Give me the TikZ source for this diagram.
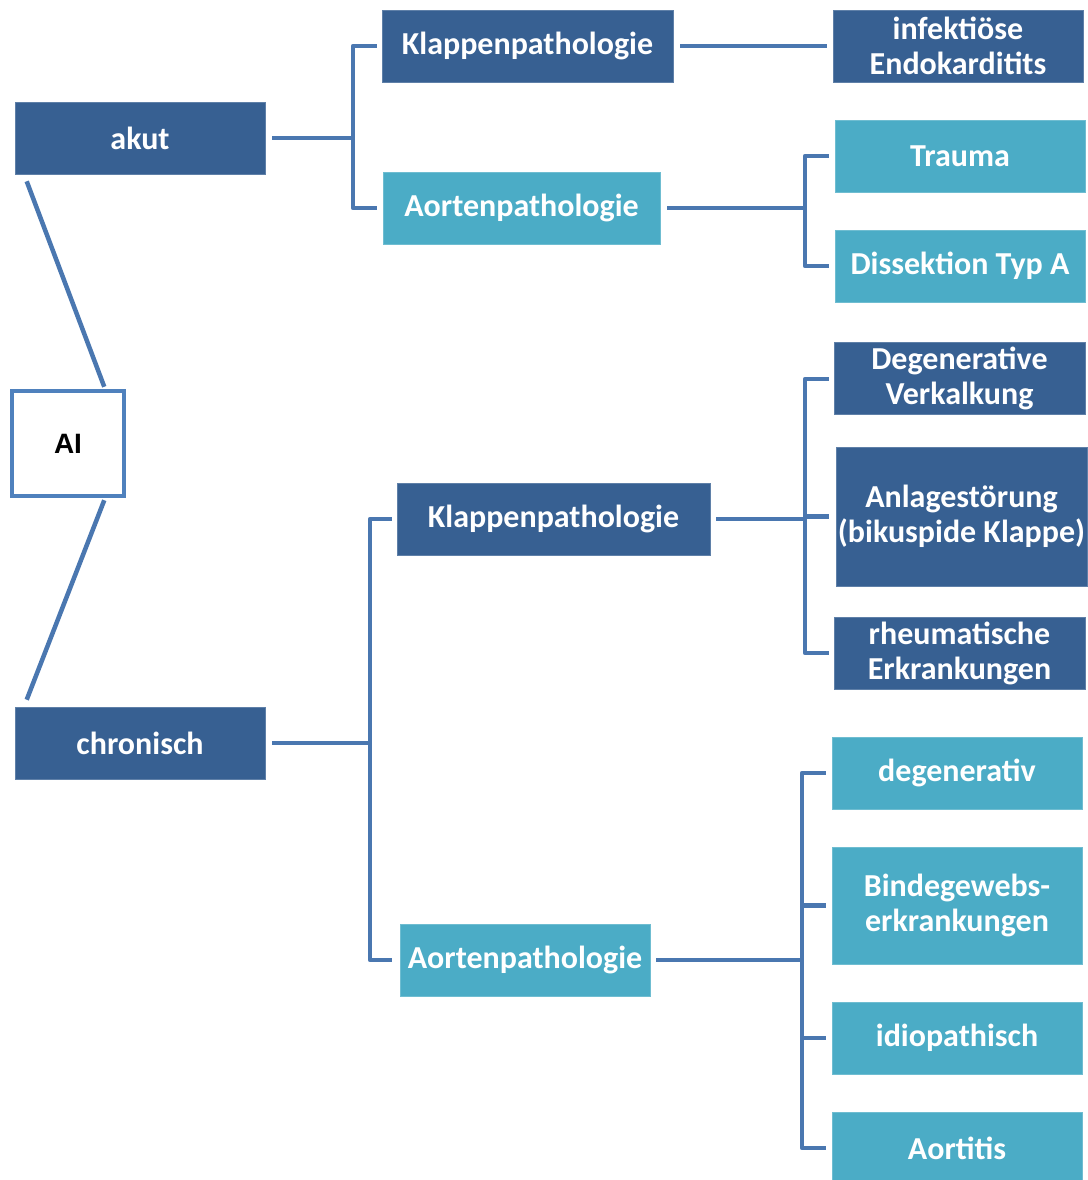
\documentclass[tikz,border=0pt]{standalone}
\usepackage{fontspec}
\setmainfont{Carlito}
\newfontfamily\arialfont{Liberation Sans}
\definecolor{darkbox}{HTML}{376092}
\definecolor{tealbox}{HTML}{4BACC6}
\definecolor{linecol}{HTML}{4A77B0}
\definecolor{aiborder}{HTML}{4F81BD}
\tikzset{
  base/.style={rectangle, inner sep=0pt, text=white, align=center,
    font=\fontsize{32}{35}\selectfont\bfseries},
  dbox/.style={base, fill=darkbox, draw=darkbox!80!white, line width=0.6pt},
  tbox/.style={base, fill=tealbox, draw=tealbox!80!white, line width=0.6pt},
  conn/.style={draw=linecol, line width=4.5pt, line join=round},
}
\begin{document}
\begin{tikzpicture}[x=1pt, y=-1pt]
\useasboundingbox[fill=white] (0,0) rectangle (1087,1180);

% first level
\node[dbox, minimum width=250, minimum height=72] (akut) at (140,138) {akut};
\node[dbox, minimum width=250, minimum height=72] (chron) at (140,743) {chronisch};
\node[rectangle, draw=aiborder, line width=4.5pt, fill=white, minimum width=112, minimum height=105,
  font=\arialfont\fontsize{28}{30}\selectfont\bfseries, text=black] (ai) at (68,443.5) {AI};

% second level
\node[dbox, minimum width=291, minimum height=72] (k1) at (527.5,46) {Klappenpathologie};
\node[tbox, minimum width=277, minimum height=72] (a1) at (521.5,208) {Aortenpathologie};
\node[dbox, minimum width=313, minimum height=72] (k2) at (553.5,519) {Klappenpathologie};
\node[tbox, minimum width=250, minimum height=72] (a2) at (525,960) {Aortenpathologie};

% third level
\node[dbox, minimum width=250, minimum height=72] (ie) at (958,46) {infektiöse\\Endokarditits};
\node[tbox, minimum width=250, minimum height=72] (tr) at (960,156) {Trauma};
\node[tbox, minimum width=250, minimum height=72] (ds) at (960,266) {Dissektion Typ A};
\node[dbox, minimum width=251, minimum height=72] (dv) at (959.5,378) {Degenerative\\Verkalkung};
\node[dbox, minimum width=251, minimum height=139] (an) at (961.5,516.5) {Anlagestörung\\(bikuspide Klappe)};
\node[dbox, minimum width=251, minimum height=72] (rh) at (959.5,653) {rheumatische\\Erkrankungen};
\node[tbox, minimum width=250, minimum height=72] (dg) at (957,773) {degenerativ};
\node[tbox, minimum width=250, minimum height=117] (bg) at (957,905.5) {Bindegewebs-\\erkrankungen};
\node[tbox, minimum width=250, minimum height=72] (id) at (957,1038) {idiopathisch};
\node[tbox, minimum width=250, minimum height=72] (ao) at (957,1148) {Aortitis};

% bracket coordinates
\coordinate (b1) at (353,138);
\coordinate (b2) at (805,208);
\coordinate (b3) at (805,519);
\coordinate (b4) at (370,743);
\coordinate (b5) at (802,960);

% AI to akut / chronisch
\draw[conn] ([shift={(12,7)}]akut.south west) -- ([shift={(-22,-2)}]ai.north east);
\draw[conn] ([shift={(-22,2)}]ai.south east) -- ([shift={(12,-7)}]chron.north west);

% akut bracket
\draw[conn] ([shift={(7,0)}]akut.east) -- (b1);
\draw[conn] ([shift={(-5,0)}]k1.west) -| (b1) |- ([shift={(-6,0)}]a1.west);

% Klappen top -> infektiöse
\draw[conn] ([shift={(7,0)}]k1.east) -- ([shift={(-6,0)}]ie.west);

% Aorten top bracket
\draw[conn] ([shift={(7,0)}]a1.east) -- (b2);
\draw[conn] ([shift={(-6,0)}]tr.west) -| (b2) |- ([shift={(-6,0)}]ds.west);

% chronisch bracket
\draw[conn] ([shift={(7,0)}]chron.east) -- (b4);
\draw[conn] ([shift={(-5,0)}]k2.west) -| (b4) |- ([shift={(-8,0)}]a2.west);

% Klappen chronic bracket
\draw[conn] ([shift={(6,0)}]k2.east) -- (b3);
\draw[conn] ([shift={(-5,1)}]dv.west) -| (b3) |- ([shift={(-5,0)}]rh.west);
\draw[conn] (b3 |- an.west) -- ([shift={(-7,0)}]an.west);

% Aorten chronic bracket
\draw[conn] ([shift={(6,0)}]a2.east) -- (b5);
\draw[conn] ([shift={(-6,0)}]dg.west) -| (b5) |- ([shift={(-6,0)}]ao.west);
\draw[conn] (b5 |- bg.west) -- ([shift={(-6,0)}]bg.west);
\draw[conn] (b5 |- id.west) -- ([shift={(-6,0)}]id.west);
\end{tikzpicture}
\end{document}
